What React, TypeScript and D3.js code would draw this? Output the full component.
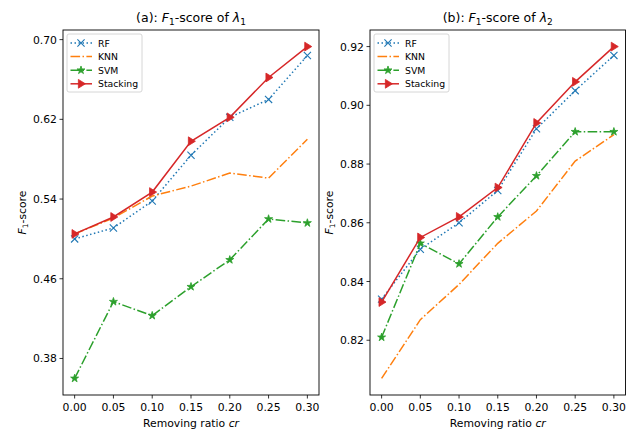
import React from 'react';
import * as d3 from 'd3';

const ratios = [0, 0.05, 0.1, 0.15, 0.2, 0.25, 0.3];
const xTicks = ['0.00', '0.05', '0.10', '0.15', '0.20', '0.25', '0.30'];
const methods = ['RF', 'KNN', 'SVM', 'Stacking'];

// panel (a): lambda 1
const rfA = [0.500, 0.511, 0.538, 0.584, 0.622, 0.640, 0.684];
const knnA = [0.505, 0.521, 0.543, 0.553, 0.566, 0.561, 0.600];
const svmA = [0.360, 0.437, 0.423, 0.452, 0.479, 0.520, 0.516];
const stackA = [0.505, 0.522, 0.547, 0.598, 0.622, 0.662, 0.693];
const yTicksA = [0.38, 0.46, 0.54, 0.62, 0.70];

// panel (b): lambda 2
const rfB = [0.834, 0.851, 0.860, 0.871, 0.892, 0.905, 0.917];
const knnB = [0.807, 0.827, 0.839, 0.853, 0.864, 0.881, 0.890];
const svmB = [0.821, 0.853, 0.846, 0.862, 0.876, 0.891, 0.891];
const stackB = [0.833, 0.855, 0.862, 0.872, 0.894, 0.908, 0.920];
const yTicksB = [0.82, 0.84, 0.86, 0.88, 0.90, 0.92];

const colors = ['#1f77b4', '#ff7f0e', '#2ca02c', '#d62728'];
const dashes = ['1.5,2.5', '9.6,2.4,1.5,2.4', '9.6,2.4,1.5,2.4', null];
const font = 'DejaVu Sans, sans-serif';

const top = 30;
const bottom = 395;

function Marker({ kind, x, y, color }: any) {
  if (kind === 0) {
    const s = 3.6;
    return <path d={`M${x - s},${y - s}L${x + s},${y + s}M${x - s},${y + s}L${x + s},${y - s}`} stroke={color} strokeWidth={1.1} fill="none" />;
  }
  if (kind === 2) {
    const p = d3.symbol().type(d3.symbolStar).size(20)();
    return <path d={p || ''} transform={`translate(${x},${y})`} fill={color} stroke={color} strokeWidth={0.8} />;
  }
  if (kind === 3) {
    const s = 4.4;
    return <path d={`M${x + s},${y}L${x - s * 0.6},${y - s}L${x - s * 0.6},${y + s}Z`} fill={color} stroke={color} strokeWidth={0.8} strokeLinejoin="miter" />;
  }
  return null;
}

function Panel({ left, right, tag, series, yTicks, yFmt }: any) {
  const x = d3.scaleLinear().domain([-0.015, 0.315]).range([left, right]);
  const all = series.flat();
  const lo = d3.min(all) as number;
  const hi = d3.max(all) as number;
  const m = (hi - lo) * 0.05;
  const y = d3.scaleLinear().domain([lo - m, hi + m]).range([bottom, top]);
  const line = d3.line<number>().x((_, i) => x(ratios[i])).y(d => y(d));
  const cx = (left + right) / 2;
  const lx = left + 4;
  return (
    <g fontFamily={font}>
      <text x={cx} y={22} textAnchor="middle" fontSize={12.5}>
        ({tag}): <tspan fontStyle="italic">F</tspan><tspan fontSize={9} dy={2.5}>1</tspan>
        <tspan dy={-2.5}>-score of </tspan><tspan fontStyle="italic">λ</tspan><tspan fontSize={9} dy={2.5}>{tag === 'a' ? '1' : '2'}</tspan>
      </text>
      {series.map((s: number[], k: number) => (
        <g key={k}>
          <path d={line(s) || ''} fill="none" stroke={colors[k]} strokeWidth={1.5} strokeDasharray={dashes[k] || undefined} />
          {s.map((v, i) => <Marker key={i} kind={k} x={x(ratios[i])} y={y(v)} color={colors[k]} />)}
        </g>
      ))}
      <rect x={left} y={top} width={right - left} height={bottom - top} fill="none" stroke="#000" strokeWidth={0.9} />
      {ratios.map((r, i) => (
        <g key={i}>
          <line x1={x(r)} x2={x(r)} y1={bottom} y2={bottom + 3.5} stroke="#000" strokeWidth={0.8} />
          <text x={x(r)} y={bottom + 16} textAnchor="middle" fontSize={10.8}>{xTicks[i]}</text>
        </g>
      ))}
      {yTicks.map((t: number, i: number) => (
        <g key={i}>
          <line x1={left - 3.5} x2={left} y1={y(t)} y2={y(t)} stroke="#000" strokeWidth={0.8} />
          <text x={left - 6} y={y(t) + 4} textAnchor="end" fontSize={10.8}>{yFmt(t)}</text>
        </g>
      ))}
      <text x={cx} y={427} textAnchor="middle" fontSize={10.8}>
        Removing ratio <tspan fontStyle="italic">cr</tspan>
      </text>
      <text transform={`translate(${left - 37},${(top + bottom) / 2}) rotate(-90)`} textAnchor="middle" fontSize={10.8}>
        <tspan fontStyle="italic">F</tspan><tspan fontSize={7.5} dy={2}>1</tspan><tspan dy={-2}>-score</tspan>
      </text>
      <rect x={lx} y={34} width={75} height={58} rx={2} fill="#fff" fillOpacity={0.8} stroke="#ccc" strokeWidth={0.8} />
      {methods.map((name, k) => {
        const ly = 43 + k * 13.6;
        return (
          <g key={name}>
            <line x1={lx + 3.5} x2={lx + 25} y1={ly} y2={ly} stroke={colors[k]} strokeWidth={1.5} strokeDasharray={dashes[k] || undefined} />
            <Marker kind={k} x={lx + 14} y={ly} color={colors[k]} />
            <text x={lx + 31} y={ly + 3.5} fontSize={9.3}>{name}</text>
          </g>
        );
      })}
    </g>
  );
}

export default function App() {
  return (
    <svg width={639} height={429} style={{ position: 'absolute', left: 0, top: 0, background: '#fff' }}>
      <Panel left={63} right={319} tag="a" series={[rfA, knnA, svmA, stackA]} yTicks={yTicksA} yFmt={(t: number) => t.toFixed(2)} />
      <Panel left={370} right={625.5} tag="b" series={[rfB, knnB, svmB, stackB]} yTicks={yTicksB} yFmt={(t: number) => t.toFixed(2)} />
    </svg>
  );
}
